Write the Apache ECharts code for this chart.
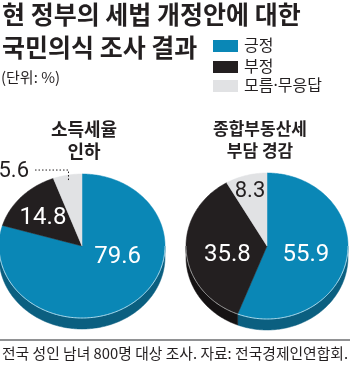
<!DOCTYPE html>
<html><head><meta charset="utf-8">
<script src="https://cdn.jsdelivr.net/npm/echarts@6/dist/echarts.min.js"></script>
<style>html,body{margin:0;padding:0;background:#fff}#c{width:350px;height:365px}</style>
</head><body><div id="c"></div>
<script>
// ---- data ----
const titleLines = ['현 정부의 세법 개정안에 대한', '국민의식 조사 결과'];
const unitText = '(단위: %)';
const categories = ['긍정', '부정', '모름·무응답'];
const pieTitles = [['소득세율', '인하'], ['종합부동산세', '부담 경감']];
const incomeTaxCut = [79.6, 14.8, 5.6];
const propertyTaxRelief = [55.9, 35.8, 8.3];
const footnote = '전국 성인 남녀 800명 대상 조사. 자료: 전국경제인연합회.';

// ---- style / layout ----
const KR = '"Noto Sans CJK KR","Noto Sans",sans-serif';
const KRL = '"Noto Sans","Noto Sans CJK KR",sans-serif';
const NUM = '"Liberation Sans Narrow","Roboto","Liberation Sans",sans-serif';
const faceColors = ['#0a87b6', '#231f20', '#e1e2e4'];
const sideColors = ['#0b5f80', '#151213', '#b3b4b6'];
const rimColors = ['#a9d6e8', '#9a9a9a', '#ffffff'];
const labelColors = ['#ffffff', '#ffffff', '#231f20'];
const thick = 11;
const pieLayout = [
  {cx: 82, cy: 246, rx: 83, ry: 72,
   labels: [[0.43, 0.15], [-0.47, -0.39], null], outside: 2},
  {cx: 267, cy: 246, rx: 81, ry: 73,
   labels: [[0.48, 0.12], [-0.49, 0.12], [-0.21, -0.74]], outside: -1}
];

function pt(p, a, k, dy) {
  return [p.cx + p.rx * k * Math.sin(a), p.cy - p.ry * k * Math.cos(a) + (dy || 0)];
}
function arc(p, a0, a1, dy) {
  const pts = [];
  const n = Math.max(2, Math.ceil(Math.abs(a1 - a0) / (Math.PI / 180)));
  for (let i = 0; i <= n; i++) pts.push(pt(p, a0 + (a1 - a0) * i / n, 1, dy));
  return pts;
}

function pieSeries(values, p) {
  const total = values.reduce((s, v) => s + v, 0);
  return {
    type: 'custom',
    coordinateSystem: 'none',
    data: values.map((v, i) => [i, v]),
    renderItem: function (params, api) {
      const i = params.dataIndex;
      let before = 0;
      for (let j = 0; j < i; j++) before += values[j];
      const a0 = before / total * 2 * Math.PI;
      const a1 = (before + values[i]) / total * 2 * Math.PI;
      const children = [];
      // side (extrusion)
      const s = Math.max(a0, Math.PI / 2), e = Math.min(a1, 3 * Math.PI / 2);
      if (s < e) {
        const top = arc(p, s, e, 0);
        const bot = arc(p, e, s, thick);
        children.push({type: 'polygon', z2: 1,
          shape: {points: top.concat(bot)},
          style: {fill: sideColors[i], stroke: sideColors[i], lineWidth: 0.5}});
        children.push({type: 'polyline', z2: 15,
          shape: {points: arc(p, s, e, 0)},
          style: {fill: null, stroke: rimColors[i], lineWidth: 1}});
      }
      // face
      children.push({type: 'polygon', z2: 10,
        shape: {points: [[p.cx, p.cy]].concat(arc(p, a0, a1, 0))},
        style: {fill: faceColors[i], stroke: faceColors[i], lineWidth: 0.5}});
      // label
      const txt = values[i].toFixed(1);
      if (i === p.outside) {
        const mid = (a0 + a1) / 2;
        const inner = pt(p, mid, 0.93);
        const topY = p.cy - p.ry * 1.055;
        const endX = p.cx - p.rx * 0.59;
        children.push({type: 'polyline', z2: 20,
          shape: {points: [inner, [inner[0], topY], [endX, topY]]},
          style: {fill: null, stroke: '#231f20', lineWidth: 1, lineDash: [1.5, 2]}});
        children.push({type: 'text', z2: 20, x: endX - 4, y: topY + 1,
          style: {text: txt, fill: labelColors[i], font: '22px ' + NUM,
            align: 'right', textAlign: 'right', verticalAlign: 'middle', textVerticalAlign: 'middle'}});
      } else {
        const f = p.labels[i];
        children.push({type: 'text', z2: 20,
          x: p.cx + p.rx * f[0], y: p.cy + p.ry * f[1],
          style: {text: txt, fill: labelColors[i], font: (i === 2 ? '22px ' : '24px ') + NUM,
            align: 'center', textAlign: 'center', verticalAlign: 'middle', textVerticalAlign: 'middle'}});
      }
      return {type: 'group', children: children};
    }
  };
}

const graphics = [];
titleLines.forEach((t, k) => graphics.push({type: 'text', x: 2, y: 14 + k * 33,
  style: {text: t, font: 'bold 25px ' + KR, fill: '#231f20', textVerticalAlign: 'middle', verticalAlign: 'middle'}}));
graphics.push({type: 'text', x: 1, y: 77,
  style: {text: unitText, font: '15px ' + KR, fill: '#231f20', textVerticalAlign: 'middle', verticalAlign: 'middle'}});
categories.forEach((c, k) => {
  const yy = [46, 67, 86][k];
  graphics.push({type: 'rect', shape: {x: 213, y: yy - 6, width: 25, height: 12}, style: {fill: faceColors[k]}});
  graphics.push({type: 'text', x: 244, y: yy,
    style: {text: c, font: '16px ' + KRL, fill: '#231f20', textVerticalAlign: 'middle', verticalAlign: 'middle'}});
});
pieTitles.forEach((lines, k) => {
  lines.forEach((t, j) => graphics.push({type: 'text', x: [84, 260][k], y: 129 + j * 22,
    style: {text: t, font: 'bold ' + [18, 17][k] + 'px ' + KR, fill: '#231f20', textAlign: 'center', align: 'center',
      textVerticalAlign: 'middle', verticalAlign: 'middle'}}));
});
graphics.push({type: 'line', shape: {x1: 0, y1: 340, x2: 350, y2: 340}, style: {stroke: '#6d6e71', lineWidth: 1.5}});
graphics.push({type: 'text', x: 2, y: 353,
  style: {text: footnote, font: '14.8px ' + KR, fill: '#231f20', textVerticalAlign: 'middle', verticalAlign: 'middle'}});

const chart = echarts.init(document.getElementById('c'), null, {renderer: 'canvas'});
chart.setOption({
  animation: false,
  graphic: graphics,
  series: [pieSeries(incomeTaxCut, pieLayout[0]), pieSeries(propertyTaxRelief, pieLayout[1])]
});
</script></body></html>
